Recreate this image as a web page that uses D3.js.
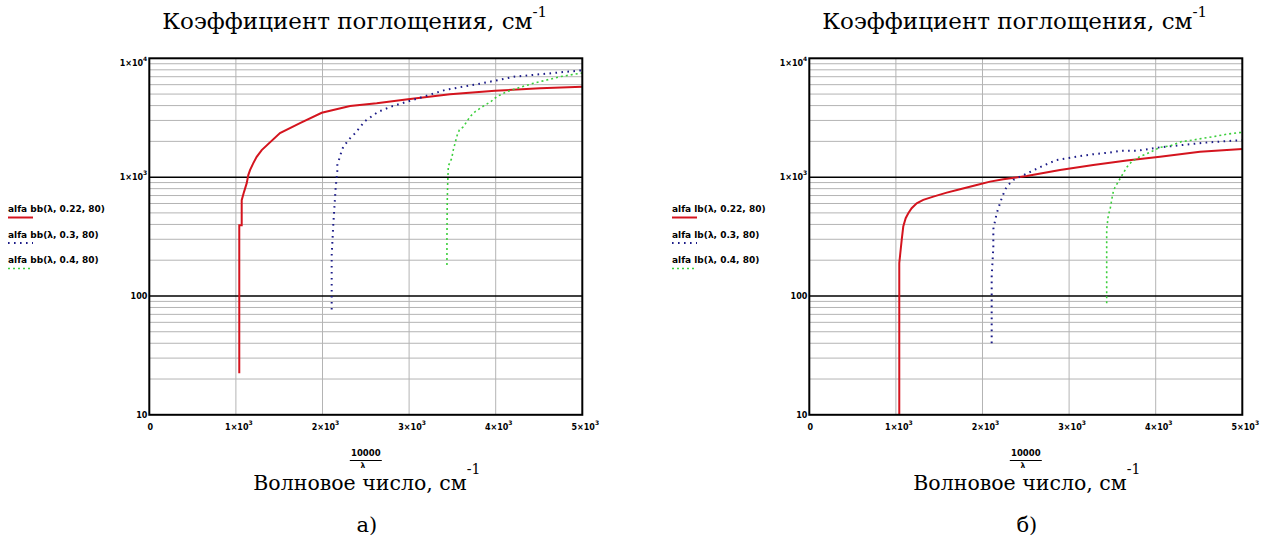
<!DOCTYPE html>
<html>
<head>
<meta charset="utf-8">
<script src="https://cdn.jsdelivr.net/npm/d3@7"></script>
<style>
  body { margin: 0; background: #fff; }
  .tick-lbl { font-family: "DejaVu Sans", sans-serif; font-size: 8px; font-weight: bold; fill: #000; }
  .serif { font-family: "DejaVu Serif", "Liberation Serif", serif; fill: #000; }
</style>
</head>
<body>
<script>
// tick values
var xTicks = [0, 1000, 2000, 3000, 4000, 5000];
var yMajor = [10, 100, 1000, 10000];

// series a) alfa bb  [wavenumber, alpha]
var redA = [[1039, 22.4], [1039, 394], [1067, 394], [1067, 640], [1094, 752], [1125, 890], [1143, 1040],
  [1163, 1146], [1201, 1312], [1240, 1483], [1298, 1688], [1509, 2349], [1740, 2853], [1991, 3483],
  [2318, 3966], [2626, 4178], [2987, 4518], [3472, 4977], [3992, 5338], [4512, 5588], [5000, 5770]];
var blueA = [[2106, 76.8], [2106, 220], [2125, 407], [2152, 807], [2171, 1130], [2171, 1262], [2222, 1667],
  [2240, 1800], [2309, 2089], [2375, 2334], [2491, 2964], [2644, 3551], [2811, 3963], [3414, 5408],
  [3665, 5848], [3780, 6040], [4030, 6564], [4211, 7000], [4550, 7380], [4954, 7870], [5000, 7920]];
var greenA = [[3437, 182], [3437, 301], [3440, 600], [3445, 857], [3453, 1240], [3492, 1440], [3510, 1687],
  [3530, 1922], [3556, 2258], [3580, 2489], [3626, 2655], [3665, 2925], [3703, 3222], [3761, 3549],
  [3819, 3791], [3876, 4043], [3942, 4310], [4011, 4750], [4127, 5234], [4281, 5700], [4434, 6155],
  [4589, 6563], [4742, 7000], [4973, 7478], [5000, 7520]];

// series б) alfa lb
var redB = [[1039, 10], [1039, 189], [1067, 297], [1085, 384], [1113, 451], [1143, 497], [1182, 548],
  [1240, 603], [1316, 643], [1432, 686], [1587, 741], [1740, 791], [1933, 860], [2087, 917], [2240, 960],
  [2510, 1023], [2895, 1150], [3279, 1267], [3665, 1378], [4050, 1487], [4511, 1638], [5000, 1728]];
var blueB = [[2106, 40.1], [2106, 71.6], [2106, 145.6], [2125, 257], [2125, 365], [2164, 497], [2222, 665],
  [2260, 780], [2286, 843], [2356, 947], [2695, 1242], [2857, 1395], [3080, 1487], [3279, 1559],
  [3461, 1608], [3599, 1671], [3799, 1671], [4050, 1783], [4319, 1866], [4569, 1950], [4904, 2028], [5000, 2040]];
var greenB = [[3434, 87], [3434, 244], [3434, 360], [3453, 481], [3472, 530], [3492, 643], [3510, 755],
  [3530, 822], [3568, 917], [3607, 1023], [3665, 1208], [3723, 1349], [3819, 1492], [3934, 1614],
  [4050, 1783], [4165, 1828], [4300, 1990], [4434, 2056], [4550, 2125], [4665, 2191], [4820, 2296],
  [4954, 2366], [5000, 2380]];

var legendA = ["alfa bb(λ, 0.22, 80)", "alfa bb(λ, 0.3, 80)", "alfa bb(λ, 0.4, 80)"];
var legendB = ["alfa lb(λ, 0.22, 80)", "alfa lb(λ, 0.3, 80)", "alfa lb(λ, 0.4, 80)"];

var svgWidth = 1261, svgHeight = 547;
var plotW = 433, plotH = 356.5;

var svg = d3.select("body").append("svg")
    .attr("width", svgWidth)
    .attr("height", svgHeight);

var styles = [
    { color: "#d4141e", width: 2, dash: null },
    { color: "#1c1c88", width: 2, dash: "1.6,4.4" },
    { color: "#3ccf3c", width: 1.6, dash: "2,3" }
];

function drawPanel(id, left, top, series, legend, legendX, caption) {
    var x = d3.scaleLinear().domain([0, 5000]).range([0, plotW]);
    var y = d3.scaleLog().domain([10, 10000]).range([plotH, 0]);

    var g = svg.append("g").attr("transform", "translate(" + left + "," + top + ")");

    // minor horizontal grid
    var minor = y.ticks().filter(d => yMajor.indexOf(d) < 0);
    g.append("g")
        .selectAll("line")
        .data(minor)
        .enter()
        .append("line")
        .attr("x1", 0).attr("x2", plotW)
        .attr("y1", d => y(d)).attr("y2", d => y(d))
        .attr("stroke", "#b4b4b4")
        .attr("stroke-width", 1);

    // vertical grid
    g.append("g")
        .selectAll("line")
        .data(xTicks.slice(1, -1))
        .enter()
        .append("line")
        .attr("x1", d => x(d)).attr("x2", d => x(d))
        .attr("y1", 0).attr("y2", plotH)
        .attr("stroke", "#b4b4b4")
        .attr("stroke-width", 1);

    // decade lines
    g.append("g")
        .selectAll("line")
        .data([100, 1000])
        .enter()
        .append("line")
        .attr("x1", 0).attr("x2", plotW)
        .attr("y1", d => y(d)).attr("y2", d => y(d))
        .attr("stroke", "#000")
        .attr("stroke-width", 1.5);

    // curves
    g.append("clipPath").attr("id", "clip" + id)
        .append("rect").attr("width", plotW).attr("height", plotH);

    var line = d3.line().x(d => x(d[0])).y(d => y(d[1]));

    series.forEach(function(s, i) {
        g.append("path")
            .datum(s)
            .attr("clip-path", "url(#clip" + id + ")")
            .attr("d", line)
            .attr("fill", "none")
            .attr("stroke", styles[i].color)
            .attr("stroke-width", styles[i].width)
            .attr("stroke-dasharray", styles[i].dash);
    });

    // frame
    g.append("rect")
        .attr("width", plotW).attr("height", plotH)
        .attr("fill", "none")
        .attr("stroke", "#000")
        .attr("stroke-width", 2);

    // x tick labels
    var xl = g.append("g").selectAll("text")
        .data(xTicks)
        .enter()
        .append("text")
        .attr("class", "tick-lbl")
        .attr("x", d => x(d) + (d === 0 ? 1 : 3))
        .attr("y", plotH + 15)
        .attr("text-anchor", "middle");
    xl.append("tspan").text(d => d === 0 ? "0" : (d / 1000) + "×10");
    xl.filter(d => d !== 0).append("tspan").attr("dy", -5).attr("font-size", 6).text("3");

    // y tick labels
    var yl = g.append("g").selectAll("text")
        .data(yMajor)
        .enter()
        .append("text")
        .attr("class", "tick-lbl")
        .attr("x", -2)
        .attr("y", d => y(d) + (d === 10000 ? 8 : 3))
        .attr("text-anchor", "end");
    yl.append("tspan").text(d => d >= 1000 ? "1×10" : String(d));
    yl.filter(d => d >= 1000).append("tspan").attr("dy", -5).attr("font-size", 6)
        .text(d => d === 1000 ? "3" : "4");

    // title
    var t = svg.append("text")
        .attr("class", "serif")
        .attr("x", left + 13)
        .attr("y", 29)
        .style("font-size", "23px");
    t.append("tspan").text("Коэффициент поглощения, см");
    t.append("tspan").attr("dy", -12).style("font-size", "15px").text("-1");

    // x label: fraction 10000/λ
    var fx = left + x(2500);
    svg.append("text").attr("class", "tick-lbl")
        .attr("x", fx).attr("y", 455.5)
        .style("font-size", "8.5px")
        .attr("text-anchor", "middle").text("10000");
    svg.append("line")
        .attr("x1", fx - 16).attr("x2", fx + 16)
        .attr("y1", 460.5).attr("y2", 460.5)
        .attr("stroke", "#000").attr("stroke-width", 1.2);
    svg.append("text").attr("class", "tick-lbl")
        .attr("x", fx - 3).attr("y", 467.5)
        .style("font-size", "7.5px")
        .attr("text-anchor", "middle").text("λ");

    var xt = svg.append("text")
        .attr("class", "serif")
        .attr("x", left + 104)
        .attr("y", 489.5)
        .style("font-size", "20.5px");
    xt.append("tspan").text("Волновое число, см");
    xt.append("tspan").attr("dy", -16).style("font-size", "14px").text("-1");

    svg.append("text")
        .attr("class", "serif")
        .attr("x", fx + 1)
        .attr("y", 532)
        .attr("text-anchor", "middle")
        .style("font-size", "21px")
        .text(caption);

    // legend
    var lg = svg.append("g").attr("transform", "translate(" + legendX + ",212)");
    legend.forEach(function(name, i) {
        lg.append("text")
            .attr("class", "tick-lbl")
            .attr("x", 0)
            .attr("y", i * 25.5)
            .style("font-size", "9px")
            .text(name);
        lg.append("line")
            .attr("x1", 0).attr("x2", 25)
            .attr("y1", i * 25.5 + 5.5).attr("y2", i * 25.5 + 5.5)
            .attr("stroke", styles[i].color)
            .attr("stroke-width", styles[i].width)
            .attr("stroke-dasharray", styles[i].dash);
    });
}

drawPanel("a", 149.3, 58.3, [redA, blueA, greenA], legendA, 8, "а)");
drawPanel("b", 809.3, 58.3, [redB, blueB, greenB], legendB, 672, "б)");
</script>
</body>
</html>
